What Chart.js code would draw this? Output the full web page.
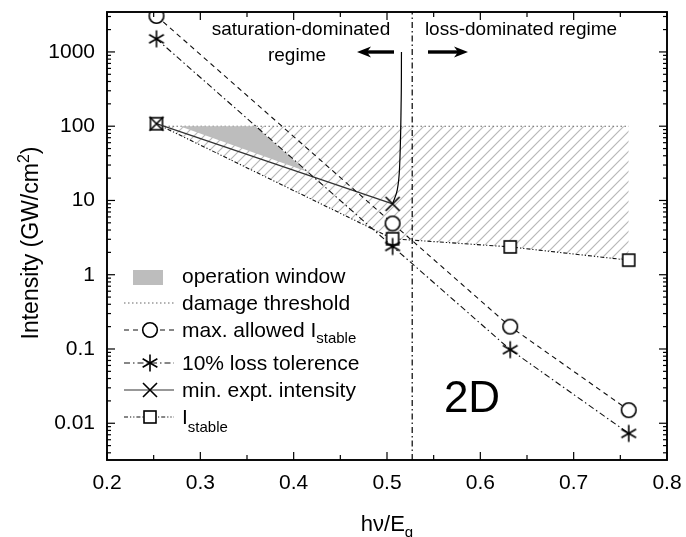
<!DOCTYPE html>
<html><head><meta charset="utf-8">
<script src="https://cdn.jsdelivr.net/npm/chart.js@4/dist/chart.umd.min.js"></script>
<style>html,body{margin:0;padding:0;background:#fff;}canvas{display:block;}</style>
</head><body>
<canvas id="c" width="686" height="537"></canvas>
<script>
const FONT = '"Liberation Sans", Arial, Helvetica, sans-serif';

// ---- data ----
const xTickValues = [0.2, 0.3, 0.4, 0.5, 0.6, 0.7, 0.8];
const yTickValues = [0.01, 0.1, 1, 10, 100, 1000];
const photonEnergy = [0.253, 0.506, 0.632, 0.759];
const maxAllowedIstable = [3050, 4.9, 0.20, 0.0150];
const lossTolerance10 = [1500, 2.4, 0.098, 0.0073];
const iStable = [108, 3.05, 2.37, 1.57];
const minExptX = [0.253, 0.506];
const minExptIntensity = [108, 9.0];
const damageX = [0.253, 0.759];
const damageThreshold = [100, 100];
const windowX = [0.278, 0.359, 0.414];
const windowY = [100, 100, 24.5];
const regimeBoundary = 0.527;
const pointerX = [0.5155, 0.5152, 0.5135, 0.511, 0.506];
const pointerY = [1000, 226, 28.3, 13.9, 9.0];
const Y_MIN = 0.0032, Y_MAX = 3450;

const toPts = (xs, ys) => xs.map((x, i) => ({x, y: ys[i]}));

function marker(kind) {
  const s = 22, c = document.createElement('canvas'); c.width = c.height = s;
  const g = c.getContext('2d'); const m = s / 2;
  g.strokeStyle = '#000'; g.lineWidth = 1.6; g.fillStyle = '#fff';
  if (kind === 'circle') { g.beginPath(); g.arc(m, m, 7.3, 0, 2 * Math.PI); g.fill(); g.stroke(); }
  if (kind === 'square') { g.fillRect(m - 6, m - 6, 12, 12); g.strokeRect(m - 6, m - 6, 12, 12); }
  if (kind === 'star') {
    for (const ang of [90, 30, 150]) {
      const r = 8.5, a = ang * Math.PI / 180;
      g.beginPath(); g.moveTo(m - r * Math.cos(a), m - r * Math.sin(a)); g.lineTo(m + r * Math.cos(a), m + r * Math.sin(a)); g.stroke();
    }
  }
  if (kind === 'x') {
    const r = 7; g.beginPath(); g.moveTo(m - r, m - r); g.lineTo(m + r, m + r); g.moveTo(m - r, m + r); g.lineTo(m + r, m - r); g.stroke();
  }
  return c;
}
const MK = {circle: marker('circle'), square: marker('square'), star: marker('star'), x: marker('x')};

const canvas = document.getElementById('c');
const ctx0 = canvas.getContext('2d');
const pc = document.createElement('canvas'); pc.width = pc.height = 10;
const pg = pc.getContext('2d'); pg.strokeStyle = '#b8b8b8'; pg.lineWidth = 1.2;
pg.beginPath(); pg.moveTo(0, 10); pg.lineTo(10, 0); pg.moveTo(-2, 2); pg.lineTo(2, -2); pg.moveTo(8, 12); pg.lineTo(12, 8); pg.stroke();
const hatch = ctx0.createPattern(pc, 'repeat');

const DASH = [5, 4], DASHDOT = [6, 3, 1.5, 3], DASHDOTDOT = [4, 2, 1.2, 2, 1.2, 2], DOT = [1.5, 2.5];

function line(ctx, x1, y1, x2, y2) { ctx.beginPath(); ctx.moveTo(x1, y1); ctx.lineTo(x2, y2); ctx.stroke(); }

function rich(ctx, parts, x, y, align) {
  let w = 0;
  for (const p of parts) { ctx.font = p.size + 'px ' + FONT; w += ctx.measureText(p.t).width; }
  let cx = align === 'center' ? x - w / 2 : x;
  ctx.textAlign = 'left'; ctx.textBaseline = 'alphabetic';
  for (const p of parts) { ctx.font = p.size + 'px ' + FONT; ctx.fillText(p.t, cx, y + (p.dy || 0)); cx += ctx.measureText(p.t).width; }
}

function arrow(ctx, xTail, xTip, y) {
  const dir = Math.sign(xTip - xTail);
  ctx.save(); ctx.lineWidth = 3.4; ctx.strokeStyle = '#000'; ctx.fillStyle = '#000';
  line(ctx, xTail, y, xTip - dir * 8, y);
  ctx.beginPath(); ctx.moveTo(xTip, y); ctx.lineTo(xTip - dir * 14, y - 5.5); ctx.lineTo(xTip - dir * 10, y); ctx.lineTo(xTip - dir * 14, y + 5.5); ctx.closePath(); ctx.fill();
  ctx.restore();
}

const decor = {
  id: 'decor',
  afterDraw(chart) {
    const {ctx, chartArea: a, scales: {x, y}} = chart;
    ctx.save();
    // frame
    ctx.strokeStyle = '#000'; ctx.lineWidth = 1.9;
    ctx.strokeRect(a.left, a.top, a.right - a.left, a.bottom - a.top);
    ctx.lineWidth = 1.2;
    for (let i = 0; i <= 12; i++) {
      const v = 0.2 + i * 0.05, px = x.getPixelForValue(v), L = i % 2 === 0 ? 8 : 5;
      line(ctx, px, a.bottom, px, a.bottom - L); line(ctx, px, a.top, px, a.top + L);
    }
    for (let e = -3; e <= 3; e++) for (let m = 1; m <= 9; m++) {
      const v = m * Math.pow(10, e); if (v < Y_MIN || v > Y_MAX) continue;
      const py = y.getPixelForValue(v), L = m === 1 ? 8 : 4;
      line(ctx, a.left, py, a.left + L, py); line(ctx, a.right, py, a.right - L, py);
    }
    ctx.fillStyle = '#000';
    // axis titles
    rich(ctx, [{t: 'hν/E', size: 22}, {t: 'g', size: 15, dy: 6}], (a.left + a.right) / 2, 531, 'center');
    ctx.save(); ctx.translate(38, (a.top + a.bottom) / 2 + 7); ctx.rotate(-Math.PI / 2);
    rich(ctx, [{t: 'Intensity (GW/cm', size: 23}, {t: '2', size: 16, dy: -9}, {t: ')', size: 23}], 0, 0, 'center');
    ctx.restore();
    // annotations
    ctx.font = '19px ' + FONT; ctx.textAlign = 'center'; ctx.textBaseline = 'middle';
    ctx.fillText('saturation-dominated', 301, 30);
    ctx.fillText('regime', 297, 56);
    ctx.fillText('loss-dominated regime', 521, 30);
    arrow(ctx, 394, 357, 52);
    arrow(ctx, 428, 468, 52);
    ctx.font = '44px ' + FONT; ctx.fillText('2D', 472, 400);
    // legend
    ctx.fillStyle = '#bdbdbd'; ctx.fillRect(133, 270, 30, 15);
    const rows = [
      {y: 303, dash: DOT, color: '#666', mk: null, parts: [{t: 'damage threshold', size: 21}]},
      {y: 330, dash: DASH, color: '#111', mk: MK.circle, parts: [{t: 'max. allowed I', size: 21}, {t: 'stable', size: 15, dy: 6}]},
      {y: 363, dash: DASHDOT, color: '#111', mk: MK.star, parts: [{t: '10% loss tolerence', size: 21}]},
      {y: 390, dash: [], color: '#333', mk: MK.x, parts: [{t: 'min. expt. intensity', size: 21}]},
      {y: 417, dash: DASHDOTDOT, color: '#111', mk: MK.square, parts: [{t: 'I', size: 21}, {t: 'stable', size: 15, dy: 8}]},
    ];
    ctx.fillStyle = '#000';
    ctx.font = '21px ' + FONT; ctx.textAlign = 'left'; ctx.textBaseline = 'middle';
    ctx.fillText('operation window', 182, 277);
    for (const r of rows) {
      ctx.save(); ctx.strokeStyle = r.color; ctx.lineWidth = 1.1; ctx.setLineDash(r.dash);
      line(ctx, 124, r.y, 174, r.y); ctx.restore();
      if (r.mk) ctx.drawImage(r.mk, 150 - r.mk.width / 2, r.y - r.mk.height / 2);
      ctx.fillStyle = '#000';
      rich(ctx, r.parts, 182, r.y + 7, 'left');
    }
    ctx.restore();
  }
};

new Chart(canvas, {
  type: 'line',
  data: {
    datasets: [
      {label: 'damage threshold', data: toPts(damageX, damageThreshold), borderColor: '#666', borderWidth: 1.1, borderDash: DOT,
       pointRadius: 0, fill: {target: 2}, backgroundColor: hatch, order: 10},
      {label: 'operation window', data: toPts(windowX, windowY), borderWidth: 0, borderColor: 'rgba(0,0,0,0)', pointRadius: 0,
       fill: 'shape', backgroundColor: '#bdbdbd', order: 9},
      {label: 'I_stable', data: toPts(photonEnergy, iStable), borderColor: '#111', borderWidth: 1.1, borderDash: DASHDOTDOT,
       pointStyle: MK.square, fill: false, order: 5},
      {label: 'min. expt. intensity', data: toPts(minExptX, minExptIntensity), borderColor: '#333', borderWidth: 1.3,
       pointStyle: MK.x, fill: false, order: 4},
      {label: '10% loss tolerence', data: toPts(photonEnergy, lossTolerance10), borderColor: '#111', borderWidth: 1.1, borderDash: DASHDOT,
       pointStyle: MK.star, fill: false, order: 3},
      {label: 'max. allowed I_stable', data: toPts(photonEnergy, maxAllowedIstable), borderColor: '#111', borderWidth: 1.1, borderDash: DASH,
       pointStyle: MK.circle, fill: false, order: 2},
      {label: 'boundary', data: [{x: regimeBoundary, y: Y_MIN}, {x: regimeBoundary, y: Y_MAX}], borderColor: '#000', borderWidth: 1.2,
       borderDash: DASHDOT, pointRadius: 0, fill: false, order: 1},
      {label: 'pointer', data: toPts(pointerX, pointerY), borderColor: '#000', borderWidth: 1.2, tension: 0.4,
       pointRadius: 0, fill: false, order: 1},
    ]
  },
  options: {
    responsive: false, devicePixelRatio: 1, animation: false,
    layout: {padding: {top: 12, right: 19, left: 0, bottom: 0}},
    plugins: {legend: {display: false}, tooltip: {enabled: false}},
    scales: {
      x: {type: 'linear', min: 0.2, max: 0.8,
          afterBuildTicks: s => { s.ticks = xTickValues.map(v => ({value: v})); },
          afterFit: s => { s.height = 77; s.paddingLeft = 0; s.paddingRight = 0; },
          grid: {display: false, drawTicks: false}, border: {display: false},
          ticks: {padding: 11, color: '#000', font: {family: FONT, size: 21}, callback: v => v.toFixed(1), maxRotation: 0}},
      y: {type: 'logarithmic', min: Y_MIN, max: Y_MAX,
          afterBuildTicks: s => { s.ticks = yTickValues.map(v => ({value: v})); },
          afterFit: s => { s.width = 107; s.paddingTop = 0; s.paddingBottom = 0; },
          grid: {display: false, drawTicks: false}, border: {display: false},
          ticks: {padding: 12, color: '#000', font: {family: FONT, size: 21}, callback: v => String(v)}}
    }
  },
  plugins: [decor]
});
</script>
</body></html>
